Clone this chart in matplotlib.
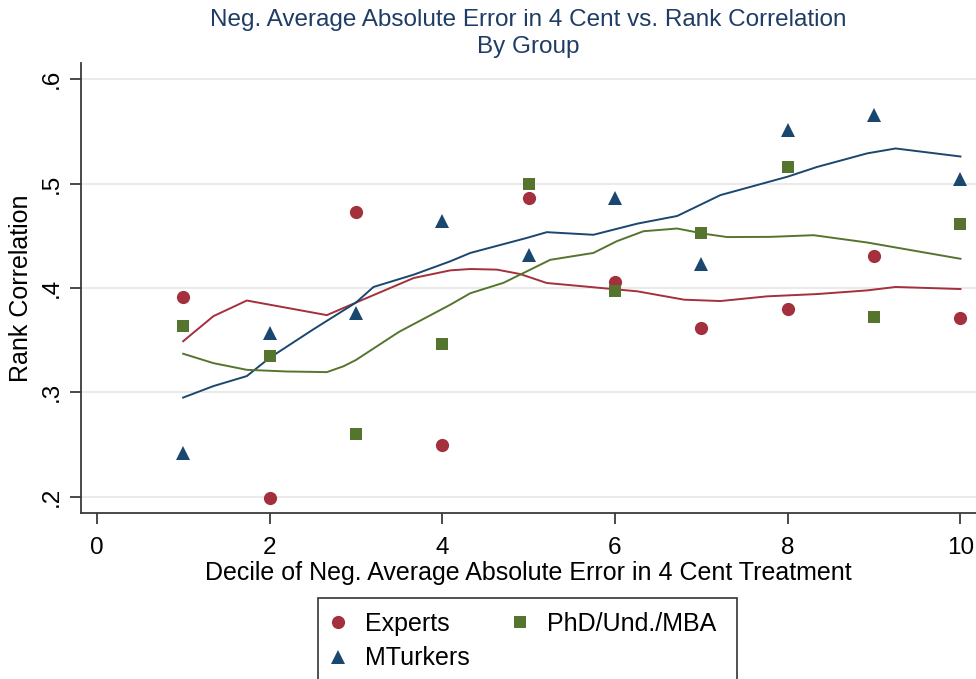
import matplotlib
matplotlib.use("Agg")
import matplotlib.pyplot as plt
from matplotlib.lines import Line2D
from matplotlib.patches import Rectangle

plt.rcParams['font.family'] = ['Liberation Sans', 'DejaVu Sans']

# ---- data ----
deciles = [1, 2, 3, 4, 5, 6, 7, 8, 9, 10]
experts = [0.391, 0.199, 0.473, 0.250, 0.486, 0.406, 0.362, 0.380, 0.431, 0.371]
phd = [0.364, 0.335, 0.260, 0.346, 0.500, 0.397, 0.453, 0.516, 0.372, 0.461]
mturk = [0.242, 0.357, 0.376, 0.464, 0.432, 0.486, 0.423, 0.551, 0.566, 0.504]

# smoothed (lowess) curves
exp_fit_x = [1, 1.35, 1.737, 2.2, 2.664, 3.0, 3.67, 4.093, 4.325, 4.634, 4.90, 5.21,
             5.71, 6.26, 6.80, 7.22, 7.76, 8.34, 8.92, 9.25, 10]
exp_fit_y = [0.349, 0.373, 0.388, 0.381, 0.374, 0.386, 0.4096, 0.4169, 0.4182, 0.4176,
             0.4134, 0.4048, 0.401, 0.3968, 0.3888, 0.3875, 0.392, 0.3942, 0.3977, 0.401, 0.399]
mt_fit_x = [1, 1.35, 1.737, 2.0, 2.5, 3.0, 3.204, 3.67, 4.093, 4.325, 4.98, 5.21, 5.75,
            6.26, 6.72, 7.22, 8.0, 8.34, 8.92, 9.25, 10]
mt_fit_y = [0.295, 0.306, 0.3156, 0.333, 0.36, 0.386, 0.401, 0.4128, 0.4256, 0.4336,
            0.448, 0.4535, 0.451, 0.4617, 0.469, 0.489, 0.5067, 0.516, 0.529, 0.5337, 0.526]
phd_fit_x = [1, 1.35, 1.737, 2.2, 2.664, 2.856, 3.0, 3.5, 4.093, 4.325, 4.71, 5.25, 5.75,
             6.02, 6.33, 6.72, 7.03, 7.30, 7.80, 8.30, 8.92, 10]
phd_fit_y = [0.337, 0.328, 0.3216, 0.320, 0.3194, 0.325, 0.331, 0.358, 0.384, 0.395,
             0.405, 0.427, 0.4336, 0.4448, 0.4544, 0.457, 0.452, 0.4488, 0.449, 0.4506,
             0.4436, 0.428]

xticks = [0, 2, 4, 6, 8, 10]
yticks = [0.2, 0.3, 0.4, 0.5, 0.6]
ytick_labels = ['.2', '.3', '.4', '.5', '.6']

title1 = "Neg. Average Absolute Error in 4 Cent vs. Rank Correlation"
title2 = "By Group"
xlabel = "Decile of Neg. Average Absolute Error in 4 Cent Treatment"
ylabel = "Rank Correlation"

RED = '#A3303C'
BLUE = '#1A476F'
GREEN = '#55752F'
TITLE_C = '#1E3D66'
AX_C = '#3A3A3A'

W, H = 976, 679
fig = plt.figure(figsize=(W / 100, H / 100), dpi=100)
ax = fig.add_axes([81 / W, 1 - 513 / H, (976 - 81) / W, (513 - 63) / H])

ax.set_xlim(-0.183, 10.18)
ax.set_ylim(0.1844, 0.6156)

for y in yticks:
    ax.axhline(y, color='#EAEAEA', lw=1.4, zorder=0)

ax.plot(exp_fit_x, exp_fit_y, color=RED, lw=1.4, zorder=2)
ax.plot(mt_fit_x, mt_fit_y, color=BLUE, lw=1.4, zorder=2)
ax.plot(phd_fit_x, phd_fit_y, color=GREEN, lw=1.4, zorder=2)

ax.plot(deciles, experts, 'o', color=RED, ms=9.5, mew=0, zorder=3)
ax.plot(deciles, phd, 's', color=GREEN, ms=9.0, mew=0, zorder=3)
ax.plot(deciles, mturk, '^', color=BLUE, ms=10.5, mew=0, zorder=3)

ax.set_xticks(xticks)
ax.set_xticklabels([str(t) for t in xticks])
ax.set_yticks(yticks)
ax.set_yticklabels(ytick_labels, rotation=90, va='center')

for s in ['top', 'right']:
    ax.spines[s].set_visible(False)
for s in ['left', 'bottom']:
    ax.spines[s].set_color(AX_C)
    ax.spines[s].set_linewidth(1.3)
ax.tick_params(axis='both', colors=AX_C, length=8, width=1.3, labelsize=17.5,
               labelcolor='black')
ax.tick_params(axis='x', pad=9)
ax.tick_params(axis='y', pad=5)

ax.set_xlabel(xlabel, fontsize=18, labelpad=2)
ax.set_ylabel(ylabel, fontsize=18, labelpad=6)

fig.text(528 / W, 1 - 20 / H, title1, ha='center', va='center', fontsize=17.5, color=TITLE_C)
fig.text(528 / W, 1 - 47 / H, title2, ha='center', va='center', fontsize=17.5, color=TITLE_C)

# legend box (extends past the bottom edge as in the original)
box = Rectangle((318 / W, 1 - 700 / H), (737 - 318) / W, (700 - 598) / H,
                transform=fig.transFigure, fill=False, edgecolor='#333333', lw=1.2)
fig.patches.append(box)

handles = [
    Line2D([], [], marker='o', ls='', color=RED, ms=9.5, mew=0),
    Line2D([], [], marker='^', ls='', color=BLUE, ms=10.5, mew=0),
    Line2D([], [], marker='s', ls='', color=GREEN, ms=9.0, mew=0),
]
labels = ['Experts', 'MTurkers', 'PhD/Und./MBA']
leg = fig.legend(handles, labels, loc='upper left', ncol=2,
                 bbox_to_anchor=(328 / W, 1 - 612 / H),
                 fontsize=18, frameon=False,
                 handlelength=0.8, handletextpad=0.68,
                 columnspacing=1.6, labelspacing=0.41, borderpad=0,
                 borderaxespad=0)

fig.savefig('out.png', dpi=100)
